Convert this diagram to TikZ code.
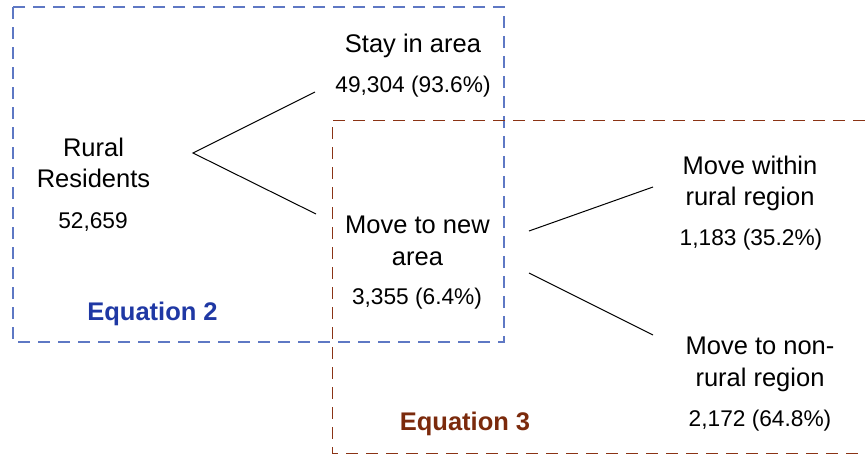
\documentclass[tikz,border=0pt]{standalone}
\usepackage{fontspec}
\setmainfont{Liberation Sans}
\usetikzlibrary{positioning}
\definecolor{eqblue}{HTML}{5E78C4}
\definecolor{eqbluetext}{HTML}{1F38A4}
\definecolor{eqbrown}{HTML}{8A3315}
\definecolor{eqbrowntext}{HTML}{7B2A0C}

\begin{document}
\begin{tikzpicture}[x=1pt, y=-1pt,
  txt/.style={align=center, inner sep=0pt, font=\fontsize{25.5}{31.5}\selectfont},
  num/.style={inner sep=0pt, font=\fontsize{22.7}{27}\selectfont},
  eqname/.style={inner sep=0pt, font=\bfseries\fontsize{25.5}{31}\selectfont}]
  \useasboundingbox (0,0) rectangle (865,455);
  \draw[eqblue, line width=1.2pt, dash pattern=on 12pt off 8pt] (13,7) rectangle (504,342);
  \draw[eqbrown, line width=1pt, dash pattern=on 12pt off 8pt] (865,120) -- (332,120) -- (332,453) -- (865,453);

  \node[txt] (rural) at (93.5,163) {Rural\\Residents};
  \node[num] (ruraln) at (93,222) {52,659};
  \node[txt] (stay) at (413,45.5) {Stay in area};
  \node[num] (stayn) at (413,87) {49,304 (93.6\%)};
  \node[txt] (move) at (417.5,241) {Move to new\\area};
  \node[num] (moven) at (417,299) {3,355 (6.4\%)};
  \node[txt] (within) at (750,183.5) {Move within\\rural region};
  \node[num] (withinn) at (751,240) {1,183 (35.2\%)};
  \node[txt] (nonrural) at (760,364.5) {Move to non-\\rural region};
  \node[num] (nonruraln) at (760,421) {2,172 (64.8\%)};
  \node[eqname, eqbluetext] (eqtwo) at (152.5,314) {Equation 2};
  \node[eqname, eqbrowntext] (eqthree) at (465,424) {Equation 3};

  \coordinate (forkone) at (193,153);
  \coordinate (stayend) at (315,92);
  \coordinate (moveend) at (316,214);
  \coordinate (forktwo) at (529,231);
  \coordinate (withinend) at (653,187);
  \coordinate (forkthree) at (529,273);
  \coordinate (nonruralend) at (653,335);
  \draw[line width=1pt] (stayend) -- (forkone) -- (moveend);
  \draw[line width=1pt] (forktwo) -- (withinend);
  \draw[line width=1pt] (forkthree) -- (nonruralend);
\end{tikzpicture}
\end{document}
